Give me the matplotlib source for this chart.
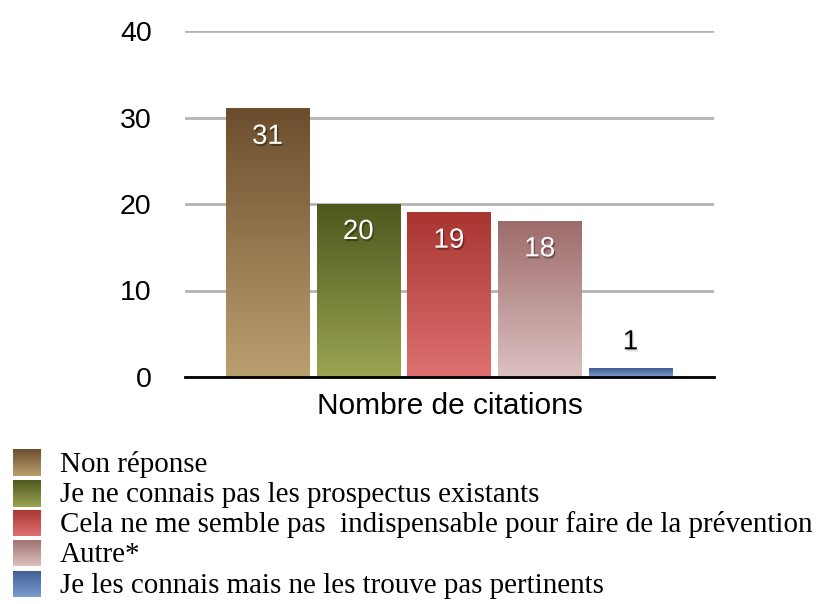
import matplotlib
matplotlib.use("Agg")
import matplotlib.pyplot as plt
import matplotlib.patheffects as pe
from matplotlib.colors import to_rgb
import numpy as np

plt.rcParams['font.family'] = ['Liberation Sans', 'DejaVu Sans']

categories = ["Non réponse",
              "Je ne connais pas les prospectus existants",
              "Cela ne me semble pas  indispensable pour faire de la prévention",
              "Autre*",
              "Je les connais mais ne les trouve pas pertinents"]
values = [31, 20, 19, 18, 1]
xlabel = "Nombre de citations"
yticks = [0, 10, 20, 30, 40]
# (top colour, bottom colour) of each gradient
grad_top = ["#6c4e2e", "#4f571d", "#a83530", "#9e6c6c", "#3f5e96"]
grad_bot = ["#baa06f", "#9aa452", "#de7070", "#dcc0c0", "#7c9ccf"]

W, H = 825, 604


def gradient(top, bot, n=64):
    t = np.linspace(0, 1, n)[:, None]
    a = np.array(to_rgb(top))[None, :]
    b = np.array(to_rgb(bot))[None, :]
    return (a * (1 - t) + b * t)[:, None, :]


fig = plt.figure(figsize=(W / 100, H / 100), dpi=100)
ax = fig.add_axes([185 / W, 1 - 377 / H, 529 / W, 346 / H])

x = np.arange(len(values))
bars = ax.bar(x, values, width=0.915, color='none', zorder=3)
for b, top, bot, v in zip(bars, grad_top, grad_bot, values):
    x0, w, h = b.get_x(), b.get_width(), b.get_height()
    ax.imshow(gradient(top, bot), extent=(x0, x0 + w, 0, h), aspect='auto',
              origin='upper', zorder=3, interpolation='bilinear')
    if v > 5:
        ax.annotate(str(v), (x0 + w / 2, h), xytext=(0, -28),
                    textcoords='offset pixels', ha='center', va='center',
                    color='white', fontsize=20, zorder=5,
                    path_effects=[pe.SimplePatchShadow(offset=(1, -1.5), shadow_rgbFace='k', alpha=0.35),
                                  pe.Normal()])
    else:
        ax.annotate(str(v), (x0 + w / 2, h), xytext=(0, 26),
                    textcoords='offset pixels', ha='center', va='center',
                    color='black', fontsize=20, zorder=5,
                    path_effects=[pe.SimplePatchShadow(offset=(1, -1.5), shadow_rgbFace='k', alpha=0.15),
                                  pe.Normal()])

ax.set_xlim(-0.909, 4.92)
ax.set_ylim(0, 40)
ax.set_yticks(yticks)
ax.set_xticks([])
ax.yaxis.grid(True, color='#b4b4b4', linewidth=2)
ax.set_axisbelow(True)
for s in ['left', 'right', 'top']:
    ax.spines[s].set_visible(False)
ax.spines['bottom'].set_linewidth(2)
ax.spines['bottom'].set_zorder(6)
ax.tick_params(axis='y', length=0, pad=24, labelsize=20.5)
ax.set_xlabel(xlabel, fontsize=21.5, labelpad=11)

# legend drawn by hand: gradient swatch + serif text per row
row_y = [462, 493, 523, 553, 584]
for cy, lab, top, bot in zip(row_y, categories, grad_top, grad_bot):
    sw = fig.add_axes([13 / W, 1 - (cy + 13.5) / H, 27 / W, 27 / H])
    sw.imshow(gradient(top, bot), aspect='auto', interpolation='bilinear')
    sw.axis('off')
    fig.text(60 / W, 1 - (cy + 2) / H, lab, ha='left', va='center',
             family='Liberation Serif', fontsize=20.9)

fig.savefig("out.png", dpi=100)
